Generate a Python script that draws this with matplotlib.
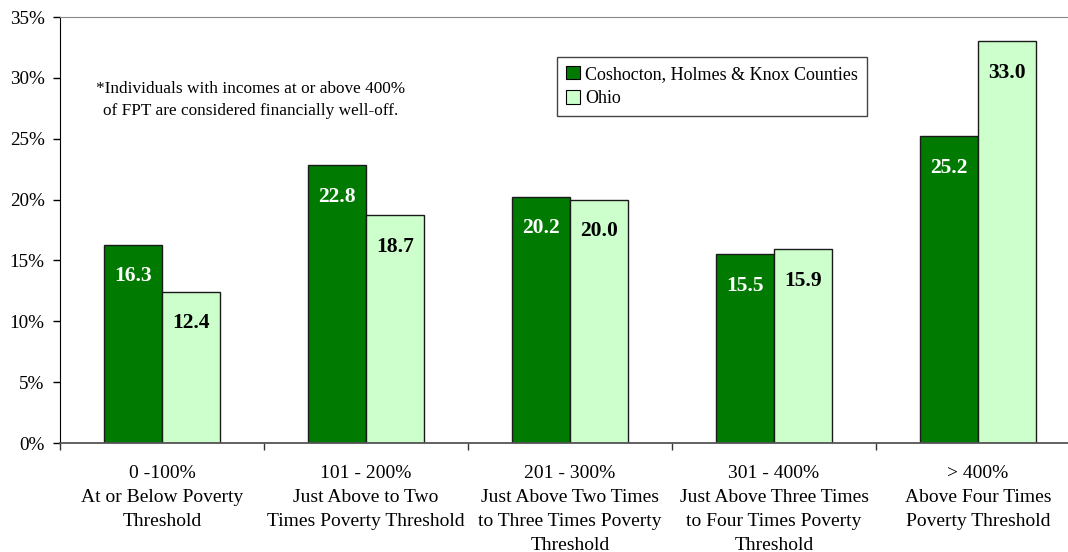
import matplotlib
matplotlib.use("Agg")
import matplotlib.pyplot as plt
from matplotlib.patches import Patch
from matplotlib.ticker import FixedLocator, PercentFormatter

categories = [
    "0 -100%\nAt or Below Poverty\nThreshold",
    "101 - 200%\nJust Above to Two\nTimes Poverty Threshold",
    "201 - 300%\nJust Above Two Times\nto Three Times Poverty\nThreshold",
    "301 - 400%\nJust Above Three Times\nto Four Times Poverty\nThreshold",
    "> 400%\nAbove Four Times\nPoverty Threshold",
]
counties = [16.3, 22.8, 20.2, 15.5, 25.2]
ohio = [12.4, 18.7, 20.0, 15.9, 33.0]
series_names = ["Coshocton, Holmes & Knox Counties", "Ohio"]
yticks = [0, 5, 10, 15, 20, 25, 30, 35]
note = "*Individuals with incomes at or above 400%\nof FPT are considered financially well-off."

dark = "#007A00"
light = "#CCFFCC"

plt.rcParams["font.family"] = ["Liberation Serif", "DejaVu Serif"]

fig = plt.figure(figsize=(10.68, 5.52), dpi=100)
ax = fig.add_axes([60/1068, 1-443/552, 1020/1068, 426/552])

w = 0.285
x = list(range(len(categories)))
ax.bar([i - w/2 for i in x], counties, width=w, color=dark, edgecolor="#1a1a1a", linewidth=1.0)
ax.bar([i + w/2 for i in x], ohio, width=w, color=light, edgecolor="#1a1a1a", linewidth=1.0)

for i in x:
    ax.annotate(f"{counties[i]:.1f}", (i - w/2, counties[i]), xytext=(0, -22.5),
                textcoords="offset points", ha="center", va="center",
                color="white", fontsize=15.5, fontweight="bold")
    ax.annotate(f"{ohio[i]:.1f}", (i + w/2, ohio[i]), xytext=(0, -22.5),
                textcoords="offset points", ha="center", va="center",
                color="black", fontsize=15.5, fontweight="bold")

ax.set_xlim(-0.5, len(categories) - 0.5)
ax.set_ylim(0, 35)
ax.set_yticks(yticks)
ax.yaxis.set_major_formatter(PercentFormatter(decimals=0))
ax.tick_params(axis="y", direction="out", length=5, width=1, labelsize=13.8, pad=6, color="black")

ax.set_xticks(x)
ax.set_xticklabels(categories, fontsize=14, linespacing=1.53)
ax.tick_params(axis="x", which="major", length=0, pad=16)
ax.xaxis.set_minor_locator(FixedLocator([i - 0.5 for i in range(len(categories) + 1)]))
ax.tick_params(axis="x", which="minor", direction="out", length=5, width=1, color="#333333")

ax.spines["left"].set_color("black")
ax.spines["bottom"].set_color("#555555")
ax.spines["bottom"].set_linewidth(1.3)
ax.spines["top"].set_color("#888888")
ax.spines["right"].set_color("#888888")

fig.text(251/1068, 1-100/552, note, ha="center", va="center", fontsize=12.4, linespacing=1.5)

handles = [Patch(facecolor=dark, edgecolor="black", linewidth=0.8),
           Patch(facecolor=light, edgecolor="black", linewidth=0.8)]
leg = ax.legend(handles, series_names, loc="upper left",
                bbox_to_anchor=(557/1068, 1-57/552), bbox_transform=fig.transFigure,
                fontsize=13, frameon=True, fancybox=False, framealpha=1,
                handlelength=0.75, handleheight=0.75, handletextpad=0.3,
                borderpad=0.5, labelspacing=0.4, borderaxespad=0)
leg.get_frame().set_edgecolor("#444444")
leg.get_frame().set_linewidth(1.0)

fig.savefig("out.png", dpi=100)
